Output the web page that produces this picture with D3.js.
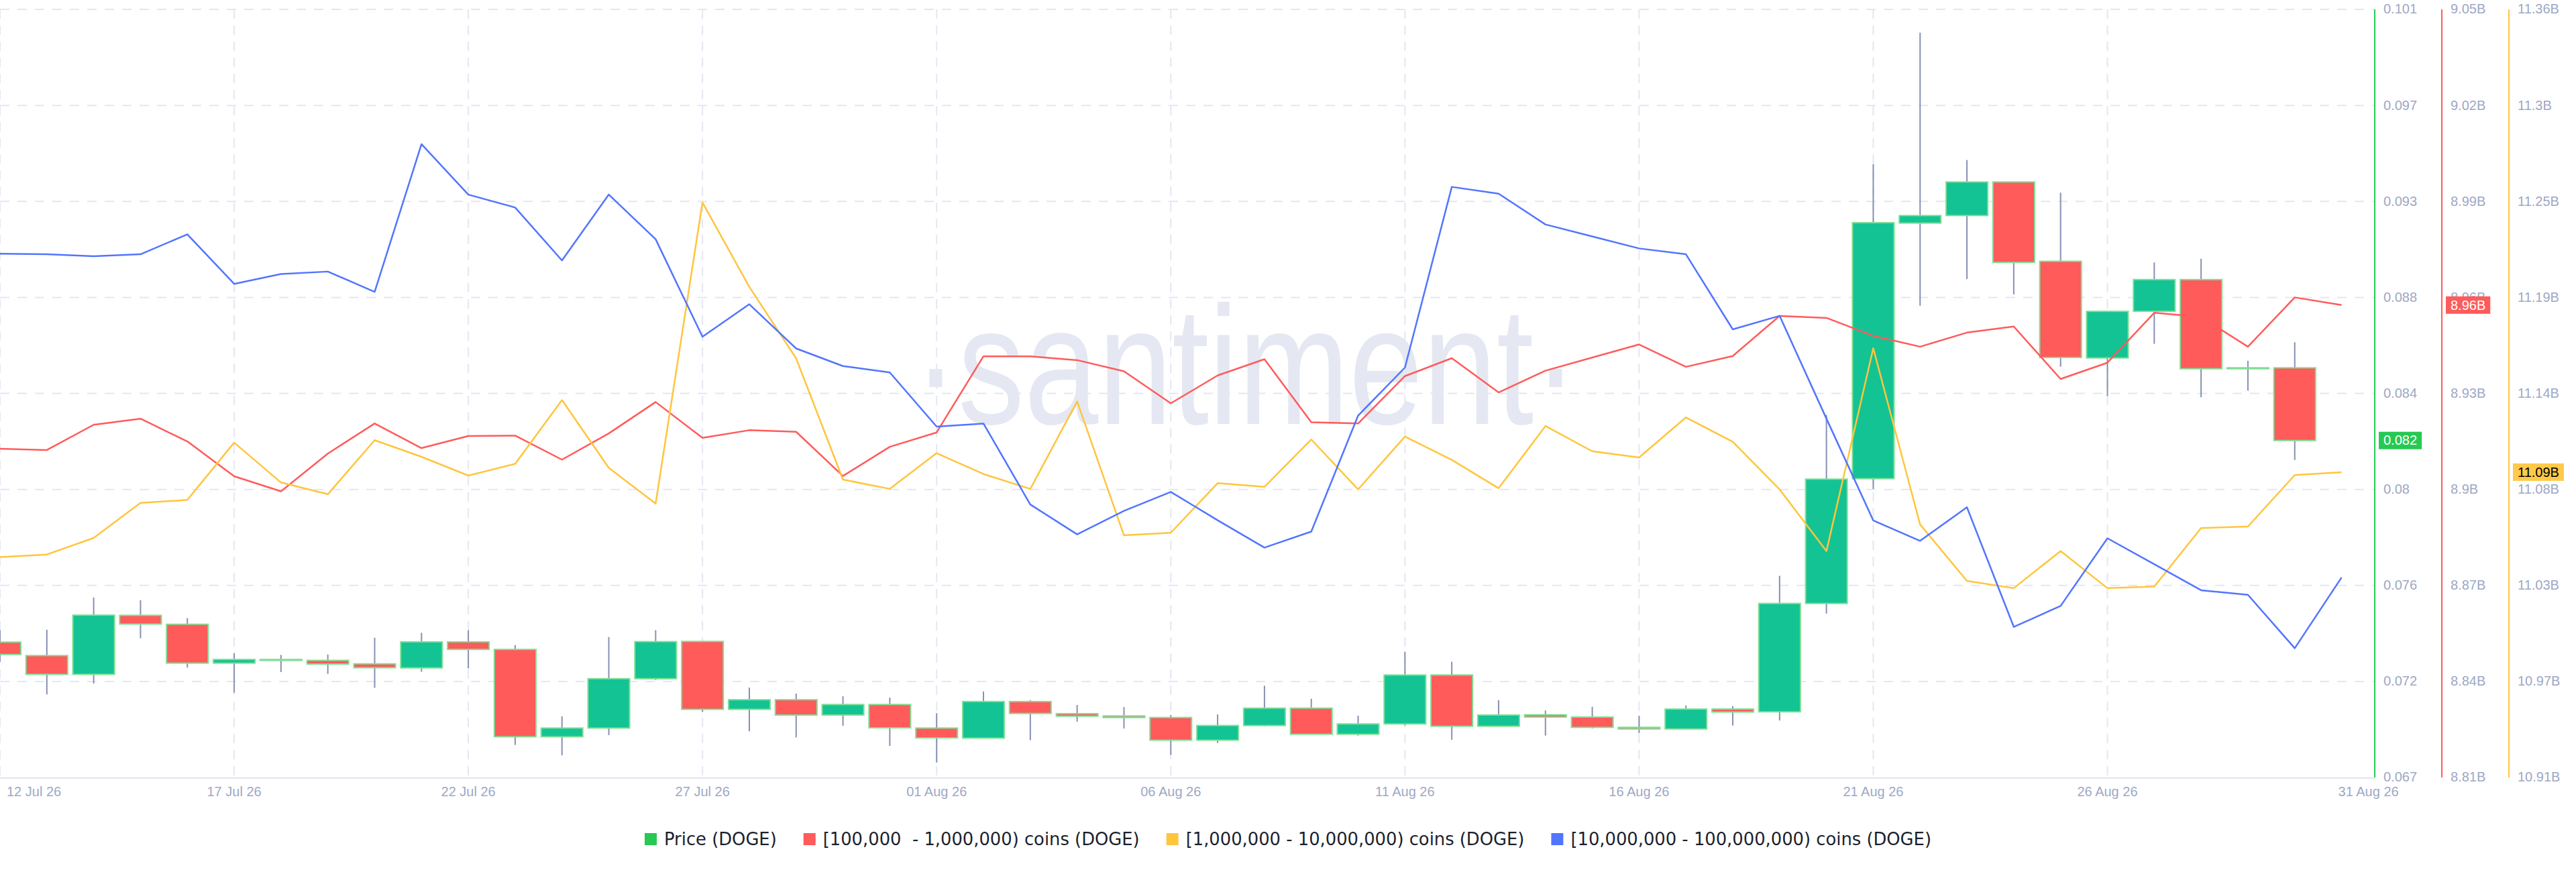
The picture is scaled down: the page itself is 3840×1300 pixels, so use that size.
<!DOCTYPE html>
<html><head><meta charset="utf-8">
<script src="https://cdn.jsdelivr.net/npm/d3@7"></script>
<style>
html,body{margin:0;padding:0;background:#fff;}
svg{display:block;font-family:"Liberation Sans",Arial,sans-serif;}
</style></head><body>
<svg id="chart" width="3840" height="1300"></svg>
<script>
// ---------- DATA ----------
// Daily price candles 12 Jul 26 .. 30 Aug 26
const priceOpen  = [0.07332,0.07273,0.07191,0.07449,0.07410,0.07240,0.07256,0.07252,0.07237,0.07219,
                    0.07333,0.07300,0.06918,0.06956,0.07172,0.07335,0.07038,0.07080,0.07013,0.07059,
                    0.06956,0.06912,0.07072,0.07019,0.07009,0.07002,0.06903,0.06967,0.07043,0.06929,
                    0.06974,0.07188,0.06964,0.07014,0.07004,0.06959,0.06952,0.07039,0.07027,0.07501,
                    0.08047,0.09165,0.09198,0.09345,0.08998,0.08575,0.08779,0.08918,0.08528,0.08532];
const priceHigh  = [0.07384,0.07386,0.07527,0.07515,0.07437,0.07284,0.07276,0.07278,0.07351,0.07373,
                    0.07384,0.07319,0.07007,0.07354,0.07384,0.07337,0.07133,0.07107,0.07095,0.07089,
                    0.07021,0.07116,0.07078,0.07057,0.07048,0.07013,0.07016,0.07141,0.07084,0.07010,
                    0.07290,0.07246,0.07078,0.07033,0.07049,0.07010,0.07055,0.07052,0.07622,0.08325,
                    0.09423,0.09998,0.09441,0.09345,0.09298,0.08779,0.08993,0.09009,0.08563,0.08644];
const priceLow   = [0.07246,0.07103,0.07151,0.07349,0.07220,0.07111,0.07201,0.07193,0.07132,0.07202,
                    0.07217,0.06882,0.06837,0.06925,0.07166,0.07026,0.06942,0.06915,0.06966,0.06878,
                    0.06805,0.06912,0.06903,0.06984,0.06954,0.06839,0.06890,0.06964,0.06927,0.06923,
                    0.06967,0.06905,0.06964,0.06923,0.06954,0.06934,0.06950,0.06967,0.06989,0.07457,
                    0.08002,0.08804,0.08920,0.08853,0.08537,0.08408,0.08637,0.08403,0.08432,0.08129];
const priceClose = [0.07278,0.07191,0.07450,0.07411,0.07240,0.07256,0.07252,0.07236,0.07220,0.07333,
                    0.07300,0.06918,0.06956,0.07172,0.07334,0.07038,0.07080,0.07013,0.07059,0.06957,
                    0.06913,0.07072,0.07020,0.07008,0.07002,0.06903,0.06967,0.07043,0.06929,0.06974,
                    0.07188,0.06964,0.07013,0.07004,0.06959,0.06952,0.07039,0.07026,0.07501,0.08045,
                    0.09167,0.09198,0.09345,0.08993,0.08577,0.08779,0.08918,0.08528,0.08532,0.08214];
// Holder balances (billions of DOGE), 12 Jul 26 .. 31 Aug 26
const holders100k = [8.9127,8.9123,8.9202,8.9221,8.9150,8.9041,8.8994,8.9112,8.9206,8.9129,
                     8.9167,8.9168,8.9093,8.9175,8.9273,8.9161,8.9185,8.9180,8.9042,8.9133,
                     8.9178,8.9416,8.9416,8.9404,8.9369,8.9269,8.9356,8.9407,8.9210,8.9206,
                     8.9354,8.9410,8.9303,8.9371,8.9412,8.9453,8.9383,8.9417,8.9542,8.9536,
                     8.9480,8.9446,8.9490,8.9509,8.9345,8.9396,8.9552,8.9539,8.9446,8.9600,8.9576];
const holders1m   = [11.0416,11.0431,11.0527,11.0730,11.0747,11.1079,11.0848,11.0780,11.1093,11.0997,
                     11.0888,11.0956,11.1325,11.0933,11.0726,11.2470,11.1981,11.1567,11.0865,11.0811,
                     11.1018,11.0897,11.0811,11.1318,11.0542,11.0557,11.0844,11.0823,11.1097,11.0808,
                     11.1114,11.0979,11.0815,11.1175,11.1029,11.0993,11.1225,11.1084,11.0808,11.0451,
                     11.1625,11.0605,11.0278,11.0236,11.0451,11.0236,11.0245,11.0584,11.0593,11.0891,11.0908];
const holders10m  = [15.0455,15.0449,15.0429,15.0449,15.0657,15.0141,15.0244,15.0269,15.0058,15.1596,
                     15.1071,15.0936,15.0385,15.1071,15.0606,14.9590,14.9929,14.9468,14.9285,14.9218,
                     14.8654,14.8686,14.7843,14.7532,14.7776,14.7974,14.7679,14.7394,14.7561,14.8769,
                     14.9269,15.1151,15.1080,15.0760,15.0635,15.0510,15.0449,14.9667,14.9808,14.8737,
                     14.7677,14.7464,14.7814,14.6568,14.6786,14.7491,14.7221,14.6950,14.6902,14.6346,14.7083];
const xTickLabels = ["12 Jul 26","17 Jul 26","22 Jul 26","27 Jul 26","01 Aug 26","06 Aug 26",
                     "11 Aug 26","16 Aug 26","21 Aug 26","26 Aug 26","31 Aug 26"];
const priceTickLabels  = ["0.067","0.072","0.076","0.08","0.084","0.088","0.093","0.097","0.101"];
const redTickLabels    = ["8.81B","8.84B","8.87B","8.9B","8.93B","8.96B","8.99B","9.02B","9.05B"];
const yellowTickLabels = ["10.91B","10.97B","11.03B","11.08B","11.14B","11.19B","11.25B","11.3B","11.36B"];
const legendLabels = ["Price (DOGE)","[100,000  - 1,000,000) coins (DOGE)",
                      "[1,000,000 - 10,000,000) coins (DOGE)","[10,000,000 - 100,000,000) coins (DOGE)"];
const priceDomain  = [0.0674, 0.1010];
const redDomain    = [8.81, 9.05];
const yellowDomain = [10.914, 11.3588];
const blueDomain   = [14.50, 15.30];

// ---------- STYLE ----------
const C = {up:"#14c393", down:"#ff5b5b", wick:"#8790b3", bodyStroke:"#7fdf95",
           green:"#26c953", red:"#ff5b5b", yellow:"#ffc53d", blue:"#5275ff",
           grid:"#e4e7f2", axisText:"#9ea8c4", legendText:"#1b1f2e", watermark:"#e5e8f2"};
const plot = {left:0, right:3540, top:14, bottom:1159};

const svg = d3.select("#chart");
const dates = d3.utcDay.range(Date.UTC(2026,6,12), Date.UTC(2026,8,1));
const x = d3.scaleUtc().domain([dates[0], d3.utcHour.offset(dates[dates.length-1], 17.2)])
  .range([plot.left, plot.right]);
const yP = d3.scaleLinear().domain(priceDomain).range([plot.bottom, plot.top]);
const yR = d3.scaleLinear().domain(redDomain).range([plot.bottom, plot.top]);
const yY = d3.scaleLinear().domain(yellowDomain).range([plot.bottom, plot.top]);
const yB = d3.scaleLinear().domain(blueDomain).range([plot.bottom, plot.top]);
const tickVals = dom => d3.range(9).map(i => dom[0] + i*(dom[1]-dom[0])/8);

svg.append("defs").append("clipPath").attr("id","clip").append("rect")
  .attr("x",plot.left).attr("y",plot.top-4).attr("width",plot.right-plot.left).attr("height",plot.bottom-plot.top+4);

// grid
const grid = svg.append("g");
tickVals(priceDomain).slice(1).forEach(v => {
  grid.append("line").attr("x1",plot.left).attr("x2",plot.right).attr("y1",yP(v)).attr("y2",yP(v))
    .attr("stroke",C.grid).attr("stroke-width",2).attr("stroke-dasharray","14,12");
});
const tickDates = xTickLabels.map((_,i)=>dates[i*5]);
tickDates.slice(0,-1).forEach(d => {
  grid.append("line").attr("x1",x(d)).attr("x2",x(d)).attr("y1",plot.top).attr("y2",plot.bottom)
    .attr("stroke",C.grid).attr("stroke-width",2).attr("stroke-dasharray","14,10");
});
// watermark
svg.append("text").attr("x",1362).attr("y",632).attr("textLength",990).attr("lengthAdjust","spacingAndGlyphs")
  .attr("font-size",250).attr("fill",C.watermark).text("\u00B7santiment\u00B7");

// x axis line
svg.append("line").attr("x1",plot.left).attr("x2",plot.right).attr("y1",plot.bottom+1).attr("y2",plot.bottom+1)
  .attr("stroke","#e1e4ef").attr("stroke-width",2);
// x labels
xTickLabels.forEach((t,i) => {
  const d = tickDates[i];
  const last = i===xTickLabels.length-1, first = i===0;
  svg.append("text").attr("x", first ? x(d)+10 : last ? x(d)-5 : x(d)).attr("y",1187)
    .attr("text-anchor", first||last ? "start" : "middle")
    .attr("font-size",20).attr("fill",C.axisText).text(t);
});

// candles
const cw = (x(dates[1])-x(dates[0]))*0.89;
const cg = svg.append("g").attr("clip-path","url(#clip)");
priceOpen.forEach((o,i) => {
  const c = priceClose[i], cx = x(dates[i]);
  cg.append("line").attr("x1",cx).attr("x2",cx).attr("y1",yP(priceHigh[i])).attr("y2",yP(priceLow[i]))
    .attr("stroke",C.wick).attr("stroke-width",2);
  const top = yP(Math.max(o,c)), bot = yP(Math.min(o,c));
  cg.append("rect").attr("x",cx-cw/2).attr("width",cw).attr("y",top).attr("height",Math.max(1,bot-top))
    .attr("fill", c>=o ? C.up : C.down).attr("stroke",C.bodyStroke).attr("stroke-width",2);
});

// lines
const lg = svg.append("g").attr("clip-path","url(#clip)");
[[holders100k,yR,C.red],[holders1m,yY,C.yellow],[holders10m,yB,C.blue]].forEach(([arr,ys,col]) => {
  lg.append("path").datum(arr).attr("fill","none").attr("stroke",col).attr("stroke-width",2.5)
    .attr("stroke-linejoin","round")
    .attr("d", d3.line().x((_,i)=>x(dates[i])).y(v=>ys(v)));
});

// right axes
const axes = [
  {x:3540, col:C.green, dom:priceDomain, labels:priceTickLabels},
  {x:3640, col:C.red, dom:redDomain, labels:redTickLabels},
  {x:3740, col:C.yellow, dom:yellowDomain, labels:yellowTickLabels}];
axes.forEach(a => {
  svg.append("line").attr("x1",a.x).attr("x2",a.x).attr("y1",plot.top).attr("y2",plot.bottom)
    .attr("stroke",a.col).attr("stroke-width",2);
  const ys = d3.scaleLinear().domain(a.dom).range([plot.bottom, plot.top]);
  tickVals(a.dom).forEach((v,i) => {
    svg.append("text").attr("x",a.x+13).attr("y",ys(v)).attr("dy","0.32em")
      .attr("font-size",20).attr("fill",C.axisText).text(a.labels[i]);
  });
});
// value badges
const badges = [
  {x:3540, y:yP(priceClose[priceClose.length-1]), txt:d3.format(".3f")(priceClose[priceClose.length-1]), bg:C.green, fg:"#fff"},
  {x:3640, y:yR(holders100k[holders100k.length-1]), txt:d3.format(".2f")(holders100k[holders100k.length-1])+"B", bg:C.red, fg:"#fff"},
  {x:3740, y:yY(holders1m[holders1m.length-1]), txt:d3.format(".2f")(holders1m[holders1m.length-1])+"B", bg:"#ffc94a", fg:"#000"}];
badges.forEach(b => {
  const g = svg.append("g");
  const r = g.append("rect").attr("fill",b.bg);
  const t = g.append("text").attr("x",b.x+13).attr("y",b.y).attr("dy","0.34em").attr("font-size",20)
    .attr("fill",b.fg).text(b.txt);
  const w = t.node().getComputedTextLength();
  r.attr("x",b.x+6).attr("y",b.y-13).attr("width",w+14).attr("height",26);
});

// legend
const lcol = [C.green,C.red,C.yellow,C.blue];
const leg = svg.append("g").style("font-family","'DejaVu Sans',sans-serif");
let widths = [];
legendLabels.forEach((t,i) => {
  const tt = leg.append("text").attr("font-size",25.8).attr("fill",C.legendText).attr("y",1260)
    .attr("xml:space","preserve").style("white-space","pre").text(t);
  widths.push(tt.node().getComputedTextLength());
});
const sq=18, gapIn=11, gapOut=40;
const total = d3.sum(widths) + legendLabels.length*(sq+gapIn) + (legendLabels.length-1)*gapOut;
let cx0 = 1920 - total/2;
leg.selectAll("text").each(function(_,i){
  leg.append("rect").attr("x",cx0).attr("y",1242).attr("width",sq).attr("height",sq).attr("fill",lcol[i]);
  d3.select(this).attr("x",cx0+sq+gapIn);
  cx0 += sq+gapIn+widths[i]+gapOut;
});
</script></body></html>
